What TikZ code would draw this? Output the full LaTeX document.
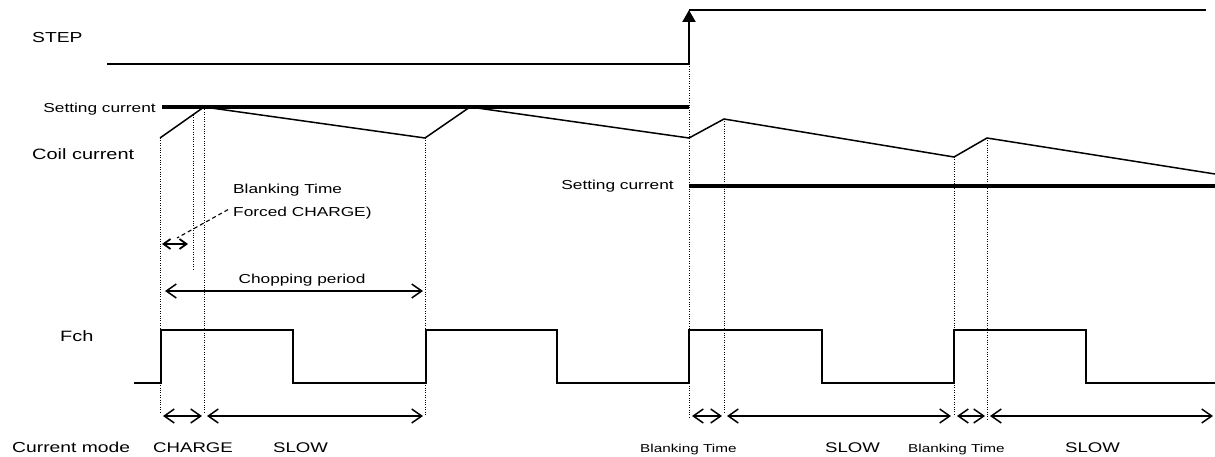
\documentclass[tikz,border=0pt]{standalone}
\usepackage{fontspec}
\setmainfont{Liberation Sans}[FakeStretch=1.33]
\usetikzlibrary{arrows.meta}

\begin{document}
\begin{tikzpicture}[x=1pt,y=-1pt,
		signal/.style={line width=1.5pt},
		setline/.style={line width=3.2pt},
		guide/.style={line width=0.8pt,dash pattern=on 0.8pt off 1.6pt},
		span/.style={line width=1.5pt,{Straight Barb[length=10pt,width=14pt]}-{Straight Barb[length=10pt,width=14pt]}},
		tinyspan/.style={line width=1.8pt,{Straight Barb[length=7pt,width=10pt]}-{Straight Barb[length=7pt,width=10pt]}},
		lbl/.style={inner sep=0pt,anchor=base west,font=\fontsize{14}{16}\selectfont},
		note/.style={inner sep=0pt,anchor=base west,font=\fontsize{13}{15}\selectfont},
		small/.style={inner sep=0pt,anchor=base west,font=\fontsize{11.5}{13}\selectfont}]
		\useasboundingbox (0,0) rectangle (1215,457);

		%labels
		\node (step) at(32,43) [lbl,font=\fontsize{14.5}{16}\selectfont] {STEP} ;
		\node (set top) at(156,113) [note,anchor=base east] {Setting current} ;
		\node (coil) at(32,160) [lbl,font=\fontsize{15}{17}\selectfont] {Coil current} ;
		\node (blank note) at(233,194) [note] {Blanking Time} ;
		\node (forced note) at(233,216) [note] {Forced CHARGE)} ;
		\node (chop) at(302,283) [note,anchor=base] {Chopping period} ;
		\node (set low) at(674,190) [note,anchor=base east] {Setting current} ;
		\node (fch) at(60,341) [lbl,font=\fontsize{15}{17}\selectfont] {Fch} ;
		\node (mode) at(12,452) [lbl,font=\fontsize{14.5}{16}\selectfont] {Current mode} ;
		\node (mode 1) at(153,452) [lbl] {CHARGE} ;
		\node (mode 2) at(273,452) [lbl] {SLOW} ;
		\node (mode 3) at(640,452) [small] {Blanking Time} ;
		\node (mode 4) at(825,452) [lbl] {SLOW} ;
		\node (mode 5) at(908,452) [small] {Blanking Time} ;
		\node (mode 6) at(1065,452) [lbl] {SLOW} ;

		%STEP
		\coordinate (step 0) at(107,64) ;
		\coordinate (step 1) at(689,64) ;
		\coordinate (step 2) at(689,10) ;
		\coordinate (step 3) at(1206,10) ;
		\draw[signal] (step 0) -- (step 1) ;
		\draw[line width=2.2pt,-{Triangle[length=12pt,width=13pt]}] (step 1) -- (step 2) ;
		\draw[signal] (step 2) -- (step 3) ;

		%setting current
		\coordinate (set 0) at(162,107) ;
		\coordinate (set 1) at(689,107) ;
		\coordinate (set 2) at(689,186) ;
		\coordinate (set 3) at(1215,186) ;
		\draw[setline] (set 0) -- (set 1) ;
		\draw[setline] (set 2) -- (set 3) ;

		%coil current
		\coordinate (coil 0) at(160,138) ;
		\coordinate (coil 1) at(204,107) ;
		\coordinate (coil 2) at(425,138) ;
		\coordinate (coil 3) at(470,107) ;
		\coordinate (coil 4) at(689,138) ;
		\coordinate (coil 5) at(724,119) ;
		\coordinate (coil 6) at(954,157) ;
		\coordinate (coil 7) at(987,138) ;
		\coordinate (coil 8) at(1215,174) ;
		\draw[signal] (coil 0) -- (coil 1) -- (coil 2) -- (coil 3) -- (coil 4)
			-- (coil 5) -- (coil 6) -- (coil 7) -- (coil 8) ;

		%Fch
		\coordinate (fch 0) at(134,383) ;
		\coordinate (fch 1) at(1215,383) ;
		\draw[signal] (fch 0) -| (161,330) -| (293,383) -| (426,330) -| (557,383)
			-| (689,330) -| (822,383) -| (954,330) -| (1086,383) -- (fch 1) ;

		%dotted guides
		\foreach \x/\a/\b in {160/138/412, 193/115/270, 204/107/414, 425/138/415,
			689/64/418, 724/119/414, 954/157/414, 987/138/420}
			\draw[guide] (\x,\a) -- (\x,\b) ;

		%spans
		\coordinate (blank a) at(162,244) ;
		\coordinate (blank b) at(188,244) ;
		\coordinate (lead) at(177,238) ;
		\coordinate (chop a) at(165,291) ;
		\coordinate (chop b) at(423,291) ;
		\draw[line width=1.1pt,dash pattern=on 4pt off 3pt] (forced note.west) ++(-5,-3) -- (lead) ;
		\path
		(blank a) edge[tinyspan] (blank b)
		(chop a) edge[span] (chop b)
		(163,416) edge[span] (202,416)
		(207,416) edge[span] (423,416)
		(692,416) edge[span] (722,416)
		(727,416) edge[span] (951,416)
		(957,416) edge[span] (985,416)
		(990,416) edge[span] (1213,416)
		;
	\end{tikzpicture}
\end{document}
